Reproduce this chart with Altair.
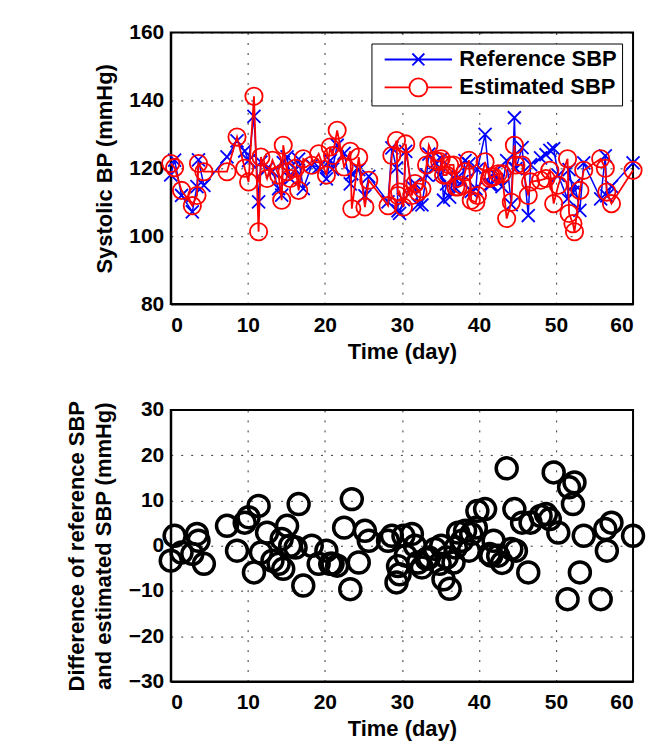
import altair as alt
import pandas as pd

# values
days = [0.0, 0.5, 1.4, 2.8, 3.4, 3.6, 4.3, 7.3, 8.6, 9.6,
        10.1, 10.8, 11.4, 11.7, 12.5, 13.2, 14.0, 14.4, 14.6, 15.1,
        15.5, 16.2, 16.6, 17.2, 18.3, 19.2, 20.2, 20.7, 21.0, 21.6,
        22.5, 23.3, 23.5, 24.4, 25.2, 25.7, 28.2, 28.7, 29.3, 29.5,
        29.7, 30.2, 30.5, 31.3, 31.7, 32.1, 32.6, 33.2, 33.5, 34.3,
        34.9, 35.1, 35.4, 35.8, 36.2, 36.7, 37.0, 37.3, 37.8, 38.2,
        38.7, 39.0, 39.6, 39.8, 40.8, 41.4, 41.6, 41.9, 42.5, 43.0,
        43.6, 44.2, 44.6, 44.8, 45.6, 46.4, 46.7, 48.0, 48.7, 49.2,
        49.7, 50.3, 51.5, 51.7, 52.2, 52.4, 53.1, 53.6, 55.8, 56.4,
        56.6, 57.2, 60.0]

est_sbp = [121.4, 120.2, 113.5, 109.0, 112.0, 121.4, 119.0, 119.0, 129.2, 120.0,
           116.0, 141.2, 101.3, 123.3, 117.0, 122.4, 118.0, 110.6, 126.8, 119.0,
           117.0, 120.0, 113.5, 122.8, 120.9, 124.3, 118.0, 126.3, 123.8, 131.2,
           120.4, 125.0, 108.1, 123.3, 108.6, 116.5, 109.0, 123.8, 128.2, 112.0,
           113.0, 108.6, 127.2, 112.0, 115.5, 113.0, 114.0, 121.0, 126.8, 122.4,
           122.0, 122.8, 118.0, 118.0, 121.0, 121.0, 114.5, 114.5, 115.0, 119.0,
           122.4, 110.6, 110.0, 112.0, 121.9, 117.0, 117.5, 117.5, 118.4, 118.4,
           105.2, 110.0, 126.8, 121.0, 121.0, 112.0, 116.0, 116.5, 117.0, 119.4,
           109.6, 115.0, 122.8, 106.7, 103.7, 101.3, 113.5, 119.4, 122.8, 120.0,
           113.0, 109.6, 119.4]

ref_sbp = [118.1, 122.4, 112.0, 107.2, 114.6, 122.5, 115.0, 123.4, 128.1, 125.1,
           122.3, 135.3, 110.1, 121.8, 119.9, 119.1, 114.0, 112.1, 121.7, 123.4,
           117.0, 119.6, 122.7, 114.0, 120.9, 120.3, 116.9, 122.3, 119.8, 126.8,
           124.4, 115.4, 118.4, 119.6, 111.9, 117.6, 110.1, 126.0, 120.1, 107.5,
           106.7, 110.8, 125.0, 114.6, 115.5, 109.3, 109.2, 118.1, 124.2, 121.7,
           118.0, 122.8, 110.6, 115.4, 111.5, 117.3, 114.1, 117.4, 116.1, 122.3,
           121.3, 113.2, 114.0, 119.7, 130.0, 115.2, 115.3, 118.6, 116.2, 114.6,
           122.3, 109.3, 134.9, 119.9, 126.1, 106.1, 121.1, 123.1, 124.0, 125.3,
           125.8, 117.9, 111.0, 119.6, 112.9, 115.3, 107.6, 121.6, 111.0, 123.7,
           111.9, 114.7, 121.6]

series_names = ["Reference SBP", "Estimated SBP"]
x_ticks = [0, 10, 20, 30, 40, 50, 60]
top_ticks = [80, 100, 120, 140, 160]
diff_ticks = [-30, -20, -10, 0, 10, 20, 30]

df = pd.DataFrame({"day": days, "ref": ref_sbp, "est": est_sbp})
# rows only used to build the legend (clipped outside the plot)
legend_df = pd.DataFrame({"day": [-100, -100], "value": [120, 120], "series": series_names})

BLUE = "#0000ff"
RED = "#ff0000"
FONT = "Liberation Sans"
X_SHAPE = "M-1,-1L1,1M-1,1L1,-1"
LEG_X = "M-4.5,0L4.5,0M-0.8,-0.8L0.8,0.8M-0.8,0.8L0.8,-0.8"
LEG_O = "M-4.5,0L-1.2,0M1.2,0L4.5,0M1.2,0A1.2,1.2,0,1,1,-1.2,0A1.2,1.2,0,1,1,1.2,0"

W, H = 463, 272

x_axis = alt.Axis(values=x_ticks, title="Time (day)", labelPadding=10, titlePadding=6)
x_enc = alt.X("day:Q", scale=alt.Scale(domain=[0, 60], nice=False), axis=x_axis)
y_top = alt.Scale(domain=[80, 160], nice=False)

ref_line = alt.Chart(df).mark_line(color=BLUE, strokeWidth=1.5).encode(
    x=x_enc,
    y=alt.Y("ref:Q", scale=y_top,
            axis=alt.Axis(values=top_ticks, title="Systolic BP (mmHg)", labelPadding=7, titlePadding=12)))
ref_pts = alt.Chart(df).mark_point(shape=X_SHAPE, size=169, color=BLUE, strokeWidth=1.8,
                                   filled=False, opacity=1).encode(x="day:Q", y="ref:Q")
est_line = alt.Chart(df).mark_line(color=RED, strokeWidth=1.8).encode(x="day:Q", y="est:Q")
est_pts = alt.Chart(df).mark_point(shape="circle", size=300, color=RED, strokeWidth=1.8,
                                   filled=False, opacity=1).encode(x="day:Q", y="est:Q")

leg = alt.Legend(title=None, orient="top-right", offset=11, padding=5,
                 strokeColor="black", fillColor="white",
                 labelFont=FONT, labelFontSize=22, labelFontWeight="bold",
                 labelColor="black", symbolSize=225, symbolStrokeWidth=1.8,
                 symbolOffset=31, labelOffset=30, rowPadding=4)
legend_layer = alt.Chart(legend_df).mark_point(filled=False, opacity=1, clip=True).encode(
    x="day:Q", y="value:Q",
    color=alt.Color("series:N", scale=alt.Scale(domain=series_names, range=[BLUE, RED]), legend=leg),
    shape=alt.Shape("series:N", scale=alt.Scale(domain=series_names, range=[LEG_X, LEG_O]), legend=leg),
)

top = alt.layer(ref_line, ref_pts, est_line, est_pts, legend_layer).properties(width=W, height=H)

bottom = alt.Chart(df).transform_calculate(diff="datum.ref - datum.est").mark_point(
    shape="circle", size=441, color="black", strokeWidth=3.5, filled=False, opacity=1
).encode(
    x=x_enc,
    y=alt.Y("diff:Q", scale=alt.Scale(domain=[-30, 30], nice=False),
            axis=alt.Axis(values=diff_ticks, labelPadding=7, titlePadding=13, titleLineHeight=27,
                          title=["Difference of reference SBP", "and estimated SBP (mmHg)"])),
).properties(width=W, height=H)

chart = alt.vconcat(top, bottom, spacing=35).properties(
    padding={"left": 56, "top": 12, "right": 5, "bottom": 5}
).configure_view(
    stroke="black", strokeWidth=2
).configure_axis(
    labelFont=FONT, labelFontSize=21, labelFontWeight="bold", labelColor="black",
    titleFont=FONT, titleFontSize=22, titleFontWeight="bold", titleColor="black",
    domainColor="black", domainWidth=2, ticks=False,
    grid=True, gridColor="black", gridDash=[2, 8], gridWidth=1, gridOpacity=0.8,
)

chart.save("out.html", embed_options={"renderer": "svg", "actions": False})
